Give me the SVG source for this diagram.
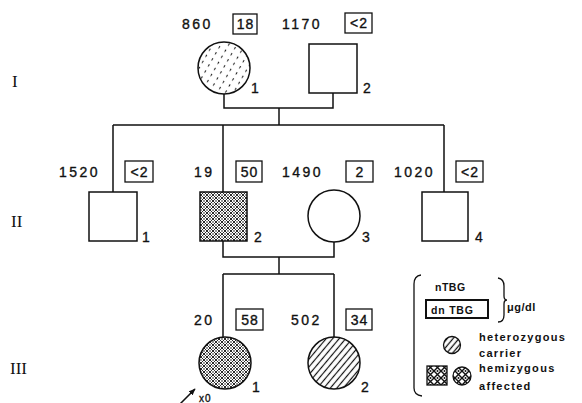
<svg xmlns="http://www.w3.org/2000/svg" width="582" height="403" viewBox="0 0 582 403">
<defs>
<style>
.ln{fill:none;stroke:#111;stroke-width:1.5}
.sh{stroke:#111;stroke-width:1.5}
.num{font-family:"Liberation Sans",Arial,sans-serif;font-size:14px;fill:#111;stroke:#111;stroke-width:0.35;letter-spacing:2.5px}
.bx{font-family:"Liberation Sans",Arial,sans-serif;font-size:14px;fill:#111;stroke:#111;stroke-width:0.35;text-anchor:middle;letter-spacing:1px}
.idx{font-family:"Liberation Sans",Arial,sans-serif;font-size:14px;fill:#111;stroke:#111;stroke-width:0.3}
.rom{font-family:"Liberation Serif","Times New Roman",serif;font-size:17px;fill:#111}
.lg{font-family:"Liberation Sans",Arial,sans-serif;font-size:11px;font-weight:bold;fill:#111;letter-spacing:1.3px}
.box{fill:#fff;stroke:#111;stroke-width:1.3}
</style>
<pattern id="dash" width="7" height="7" patternUnits="userSpaceOnUse" patternTransform="rotate(30)">
<line x1="3.5" y1="0" x2="3.5" y2="7" stroke="#222" stroke-width="1.1" stroke-dasharray="2.5 4.5"/>
</pattern>
<pattern id="hatch" width="5" height="5" patternUnits="userSpaceOnUse" patternTransform="rotate(40)">
<line x1="2.5" y1="0" x2="2.5" y2="5" stroke="#111" stroke-width="1.2"/>
</pattern>
<pattern id="hatchL" width="4.5" height="4.5" patternUnits="userSpaceOnUse" patternTransform="rotate(40)">
<line x1="2.2" y1="0" x2="2.2" y2="4.5" stroke="#111" stroke-width="1.3"/>
</pattern>
<pattern id="cross" width="6" height="6" patternUnits="userSpaceOnUse">
<path d="M0,0L6,6M6,0L0,6" stroke="#111" stroke-width="0.9" fill="none"/>
<circle cx="3" cy="0" r="0.8" fill="#111"/><circle cx="3" cy="6" r="0.8" fill="#111"/>
<circle cx="0" cy="3" r="0.8" fill="#111"/><circle cx="6" cy="3" r="0.8" fill="#111"/>
</pattern>
<pattern id="crossL" width="7" height="7" patternUnits="userSpaceOnUse">
<path d="M0,0L7,7M7,0L0,7" stroke="#111" stroke-width="1.4" fill="none"/>
<circle cx="3.5" cy="0" r="1" fill="#111"/><circle cx="3.5" cy="7" r="1" fill="#111"/>
</pattern>
<marker id="arr" viewBox="0 0 10 10" refX="9" refY="5" markerWidth="7" markerHeight="7" orient="auto" markerUnits="userSpaceOnUse">
<path d="M0,1L10,5L0,9Z" fill="#111"/>
</marker>
</defs>
<rect width="582" height="403" fill="#fff"/>

<g id="generation-labels">
<text class="rom" x="12" y="87">I</text>
<text class="rom" x="11" y="227">II</text>
<text class="rom" x="10" y="374">III</text>
</g>

<g id="connectors">
<path class="ln" d="M224,94V108H333V93"/>
<path class="ln" d="M279,108V125"/>
<path class="ln" d="M113,125H444M113,125V192M223,125V192M444,125V192"/>
<path class="ln" d="M223,241V257H334V242"/>
<path class="ln" d="M279,257V274"/>
<path class="ln" d="M223,274H334M223,274V337M334,274V337"/>
<line class="ln" x1="180" y1="404" x2="195" y2="389" marker-end="url(#arr)"/>
</g>

<g id="I-1">
<circle class="sh" cx="224" cy="68" r="26" fill="url(#dash)"/>
<text class="num" x="182" y="29">860</text>
<rect class="box" x="233" y="14" width="24" height="20"/>
<text class="bx" x="245.5" y="29">18</text>
<text class="idx" x="251" y="93">1</text>
</g>
<g id="I-2">
<rect class="sh" x="309" y="44" width="48" height="49" fill="#fff"/>
<text class="num" x="282" y="29">1170</text>
<rect class="box" x="345" y="13" width="27" height="20"/>
<text class="bx" x="359" y="28">&lt;2</text>
<text class="idx" x="363" y="93">2</text>
</g>

<g id="II-1">
<rect class="sh" x="89" y="192" width="48" height="49" fill="#fff"/>
<text class="num" x="59" y="177">1520</text>
<rect class="box" x="125" y="161" width="28" height="21"/>
<text class="bx" x="139.5" y="176.5">&lt;2</text>
<text class="idx" x="142" y="242">1</text>
</g>
<g id="II-2">
<rect class="sh" x="200" y="192" width="47" height="49" fill="url(#cross)"/>
<text class="num" x="194" y="177">19</text>
<rect class="box" x="236" y="161" width="26" height="21"/>
<text class="bx" x="249.5" y="176.5">50</text>
<text class="idx" x="254" y="242">2</text>
</g>
<g id="II-3">
<circle class="sh" cx="334" cy="216" r="26" fill="#fff"/>
<text class="num" x="282" y="177">1490</text>
<rect class="box" x="346" y="161" width="27" height="21"/>
<text class="bx" x="360" y="176.5">2</text>
<text class="idx" x="362" y="242">3</text>
</g>
<g id="II-4">
<rect class="sh" x="422" y="192" width="46" height="49" fill="#fff"/>
<text class="num" x="394" y="177">1020</text>
<rect class="box" x="456" y="161" width="27" height="21"/>
<text class="bx" x="470" y="176.5">&lt;2</text>
<text class="idx" x="475" y="242">4</text>
</g>

<g id="III-1">
<circle class="sh" cx="225" cy="363" r="26" fill="url(#cross)"/>
<text class="num" x="194" y="325">20</text>
<rect class="box" x="236" y="309" width="27" height="21"/>
<text class="bx" x="250" y="324.5">58</text>
<text class="idx" x="252" y="392">1</text>
<text class="num" x="199" y="402" style="font-size:10px;letter-spacing:1px">x0</text>
</g>
<g id="III-2">
<circle class="sh" cx="334" cy="363" r="26" fill="url(#hatch)"/>
<text class="num" x="291" y="325">502</text>
<rect class="box" x="346" y="309" width="26" height="21"/>
<text class="bx" x="359.5" y="324.5">34</text>
<text class="idx" x="361" y="392">2</text>
</g>

<g id="legend">
<path class="ln" style="stroke-width:1.3" d="M421,275Q414,276 414,284V388Q414,395 422,396"/>
<text class="lg" x="435" y="291" style="letter-spacing:0.5px;font-size:10.5px">nTBG</text>
<rect x="426" y="300" width="62" height="18" fill="#fff" stroke="#111" stroke-width="2"/>
<text class="lg" x="431" y="314" style="letter-spacing:0.8px;font-size:10.5px">dn TBG</text>
<path class="ln" style="stroke-width:1.3" d="M498,278Q504,279 504,286V296Q504,300 507,300Q504,300 504,304V315Q504,322 498,322"/>
<text class="lg" x="507" y="311" style="letter-spacing:0.5px">μg/dl</text>
<circle class="sh" cx="452" cy="345" r="8.5" fill="url(#hatchL)" style="stroke-width:1.3"/>
<text class="lg" x="479" y="341">heterozygous</text>
<text class="lg" x="479" y="357">carrier</text>
<rect class="sh" x="427" y="366" width="20" height="19" fill="url(#crossL)" style="stroke-width:1.3"/>
<circle class="sh" cx="462" cy="376" r="9" fill="url(#crossL)" style="stroke-width:1.3"/>
<text class="lg" x="479" y="372">hemizygous</text>
<text class="lg" x="479" y="390">affected</text>
</g>
</svg>
